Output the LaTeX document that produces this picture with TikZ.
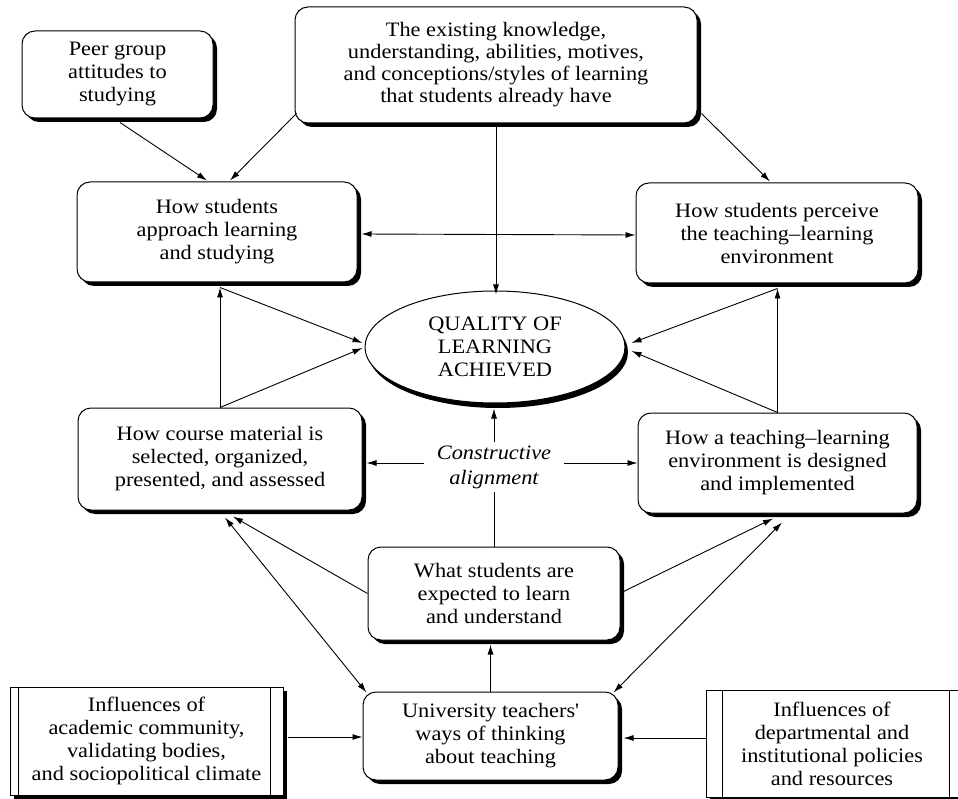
\documentclass[tikz,border=0pt]{standalone}
\usepackage{fontspec}
\setmainfont[FakeStretch=1.09]{Liberation Serif}
\usetikzlibrary{shapes.geometric,shadows,arrows.meta,calc}
\begin{document}
\begin{tikzpicture}[x=1pt,y=-1pt,
  font=\fontsize{20.5}{23}\selectfont,
  shad/.style={drop shadow={shadow xshift=4pt, shadow yshift=-4pt, fill=black, opacity=1}},
  rbox/.style={draw, line width=1pt, rounded corners=13pt, fill=white, align=center, inner sep=0pt, shad},
  ibox/.style={draw, line width=1pt, fill=white, align=center, inner sep=0pt, shad},
  arr/.style={line width=0.9pt, -{Latex[length=10pt,width=6pt]}},
  darr/.style={line width=0.9pt, {Latex[length=10pt,width=6pt]}-{Latex[length=10pt,width=6pt]}},
  ln/.style={line width=0.9pt}]
\useasboundingbox (0,0) rectangle (958,799);
\clip (0,0) rectangle (958,799);

\node[rbox, minimum width=191pt, minimum height=87pt] (peer) at (117.5,74.5) {Peer group\\attitudes to\\studying};
\node[rbox, minimum width=402pt, minimum height=116pt, font=\fontsize{20.5}{22}\selectfont] (exist) at (496,65) {The existing knowledge,\\understanding, abilities, motives,\\and conceptions/styles of learning\\that students already have};
\node[rbox, minimum width=280pt, minimum height=100pt] (appr) at (217,232) {How students\\approach learning\\and studying};
\node[rbox, minimum width=282pt, minimum height=100pt] (perc) at (777,233) {How students perceive\\the teaching--learning\\environment};
\node[ellipse, draw, line width=1pt, fill=white, align=center, inner sep=0pt, minimum width=260pt, minimum height=112pt, drop shadow={shadow xshift=3pt, shadow yshift=-5pt, fill=black, opacity=1}] (ell) at (495,347) {QUALITY OF\\LEARNING\\ACHIEVED};
\node[rbox, minimum width=284pt, minimum height=102pt] (course) at (220,459) {How course material is\\selected, organized,\\presented, and assessed};
\node[rbox, minimum width=279pt, minimum height=100pt] (design) at (777.5,463) {How a teaching--learning\\environment is designed\\and implemented};
\node[align=center, inner xsep=13pt, inner ysep=3pt, font=\fontsize{20.5}{25}\selectfont\itshape] (ca) at (494,467) {Constructive\\alignment};
\node[rbox, minimum width=252pt, minimum height=93pt] (exp) at (494,593.5) {What students are\\expected to learn\\and understand};
\node[rbox, minimum width=255pt, minimum height=88pt] (univ) at (490.5,736) {University teachers\textquotesingle\\ways of thinking\\about teaching};
\node[ibox, minimum width=273pt, minimum height=108pt] (linf) at (146.5,741) {Influences of\\academic community,\\validating bodies,\\and sociopolitical climate};
\node[ibox, minimum width=260pt, minimum height=107pt] (rinf) at (836,743.5) {\hspace*{-8pt}Influences of\\\hspace*{-8pt}departmental and\\\hspace*{-8pt}institutional policies\\\hspace*{-8pt}and resources};

\draw[line width=1pt] ([xshift=9pt]linf.north west) -- ([xshift=9pt]linf.south west);
\draw[line width=1pt] ([xshift=-13pt]linf.north east) -- ([xshift=-13pt]linf.south east);
\draw[line width=1pt] ([xshift=17pt]rinf.north west) -- ([xshift=17pt]rinf.south west);
\draw[line width=1pt] ([xshift=-17pt]rinf.north east) -- ([xshift=-17pt]rinf.south east);

% top
\draw[arr] ([xshift=2.5pt,yshift=-4pt]peer.south) -- ([xshift=-10pt,yshift=1pt]appr.north);
\draw[arr] ([xshift=2pt,yshift=10pt]exist.south west) -- ([xshift=13pt,yshift=1pt]appr.north);
\draw[arr] ([xshift=4pt,yshift=10pt]exist.south east) -- ([xshift=-7pt,yshift=1pt]perc.north);
\coordinate (ellt) at (ell.north);
\draw[arr] ([yshift=-4pt]exist.south) -- ([yshift=-4pt]exist.south |- ellt);
\draw[darr] ([xshift=4pt,yshift=-2pt]appr.east) -- ([yshift=-2pt]perc.west);

% left triangle
\coordinate (apx) at ([xshift=3pt,yshift=-5pt]appr.south);
\draw[arr] (course.north) -- (apx);
\draw[arr] (apx) -- ([xshift=-2pt,yshift=4pt]ell.west);
\draw[arr] (course.north) -- ([xshift=-2pt,yshift=-1pt]ell.west);

% right triangle
\coordinate (ppx) at ([xshift=0.5pt,yshift=-5pt]perc.south);
\draw[arr] (design.north) -- (ppx);
\draw[arr] (ppx) -- ([xshift=6pt,yshift=4pt]ell.east);
\draw[arr] (design.north) -- ([xshift=6pt,yshift=-4pt]ell.east);

% constructive alignment
\coordinate (ellb) at ([yshift=-5pt]ell.south);
\draw[arr] (ca.north) -- (ca.north |- ellb);
\coordinate (caw) at ([yshift=4pt]ca.west);
\coordinate (cae) at ([yshift=4pt]ca.east);
\coordinate (crsE) at ([xshift=4pt]course.east);
\draw[arr] (caw) -- (caw -| crsE);
\draw[arr] (cae) -- (cae -| design.west);
\draw[ln] (exp.north) -- (exp.north |- ca.south);

% expected
\draw[arr] ([yshift=0pt]exp.west) -- ([xshift=13pt,yshift=-6pt]course.south);
\draw[arr] ([xshift=3pt,yshift=2pt]exp.east) -- ([xshift=-4.5pt,yshift=-5pt]design.south);

% university
\draw[darr] ([xshift=4pt,yshift=-1pt]univ.north west) -- ([xshift=5pt,yshift=-7pt]course.south);
\draw[darr] ([xshift=-5pt,yshift=-1pt]univ.north east) -- ([xshift=4.5pt,yshift=-9pt]design.south);
\coordinate (expb) at ([yshift=-4pt]exp.south);
\draw[arr] (univ.north) -- (univ.north |- expb);

% influences
\coordinate (lie) at ([xshift=4pt,yshift=4pt]linf.east);
\draw[arr] (lie) -- (lie -| univ.west);
\coordinate (riw) at ([yshift=5.5pt]rinf.west);
\coordinate (unE) at ([xshift=5pt]univ.east);
\draw[arr] (riw) -- (riw -| unE);
\end{tikzpicture}
\end{document}
